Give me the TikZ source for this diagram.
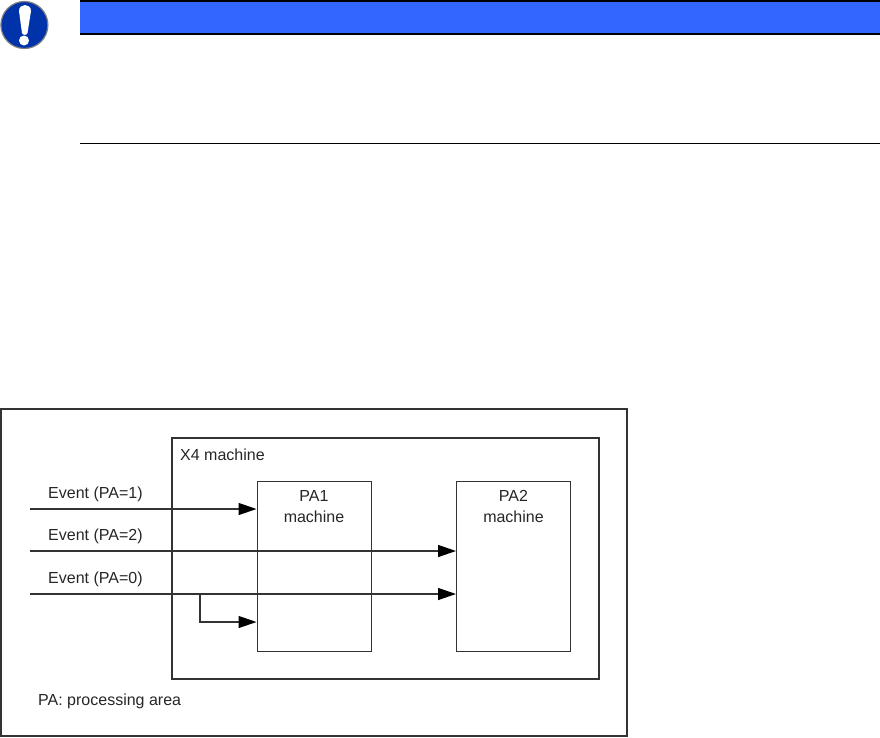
\documentclass[tikz,border=0pt]{standalone}
\usepackage{fontspec}
\setmainfont{Liberation Sans}
\usetikzlibrary{arrows.meta}
\def\machines{{(314,566)/pa1/PA1}, {(513.5,566)/pa2/PA2}}
\def\events{{509/1/1}, {551/2/2}, {594/0/0}}
\colorlet{box edge}{black!80}
\definecolor{header blue}{RGB}{51,102,255}
\definecolor{icon blue}{RGB}{0,51,170}
\tikzset{
  label text/.style={font=\fontsize{16}{18}\selectfont, text=black!85, inner sep=0pt},
  rule/.style={draw=black, line width=1.2pt}
  }
\tikzstyle{machine} = [draw=box edge, line width=1pt, minimum width=114pt, minimum height=170pt, inner sep=0pt]
\tikzstyle{frame} = [draw=box edge, inner sep=0pt]
\tikzstyle{signal} = [draw=box edge, line width=1.3pt, -{Triangle[length=18pt,width=12pt,color=black]}]

\begin{document}
\begin{tikzpicture}[x=1pt, y=-1pt]
  \useasboundingbox (0,0) rectangle (880,737);

  % The notice at the top
  \fill[header blue] (80,1.5) rectangle (880,34);
  \coordinate (top-l) at (80,1);
  \coordinate (top-r) at (880,1);
  \coordinate (head-l) at (80,34);
  \coordinate (head-r) at (880,34);
  \coordinate (end-l) at (80,143.5);
  \coordinate (end-r) at (880,143.5);
  \foreach \source/\sink in {top-l/top-r, head-l/head-r, end-l/end-r}
    \path[rule] (\source) -- (\sink);

  % The icon
  \node[circle, fill=icon blue, draw=black!50, line width=1.2pt, minimum size=47pt, inner sep=0pt] (icon) at (24.4,25) {};
  \fill[white] (19,11) .. controls (19,3) and (31,3) .. (31,11) -- (27.5,33) .. controls (27,35.5) and (22.5,35.5) .. (22,33) -- cycle;
  \fill[white] (24,40.5) circle (5);

  % The frames
  \node[frame, line width=1.2pt, minimum width=626pt, minimum height=327pt] (outer) at (314,572.5) {};
  \node[frame, line width=2.4pt, minimum width=427pt, minimum height=241pt] (x4) at (385.5,558.5) {};
  \node[label text, anchor=west] (x4-label) at (180,455) {X4 machine};
  \node[label text, anchor=west] (pa-note) at (38,701) {PA: processing area};

  % The two machines
  \foreach \pos/\name/\title in \machines {
    \node[machine] (\name) at \pos {};
    \node[label text, anchor=center] (\name-title) at ([yshift=70pt]\name.center) {\title};
    \node[label text, anchor=center] (\name-text) at ([yshift=49pt]\name.center) {machine};
  }

  % The events coming in
  \foreach \y/\name/\value in \events {
    \coordinate (ev\name) at (30,\y);
    \node[label text, anchor=west] (ev\name-label) at (48,\y-14.5) {Event (PA=\value)};
  }
  \coordinate (branch) at (200,594);
  \coordinate (branch-low) at (200,622);

  \path[signal] (ev1) -- (ev1 -| pa1.west);
  \path[signal] (ev2) -- (ev2 -| pa2.west);
  \path[signal] (ev0) -- (ev0 -| pa2.west);
  \path[signal] (branch) -- (branch-low) -- (branch-low -| pa1.west);

\end{tikzpicture}
\end{document}
